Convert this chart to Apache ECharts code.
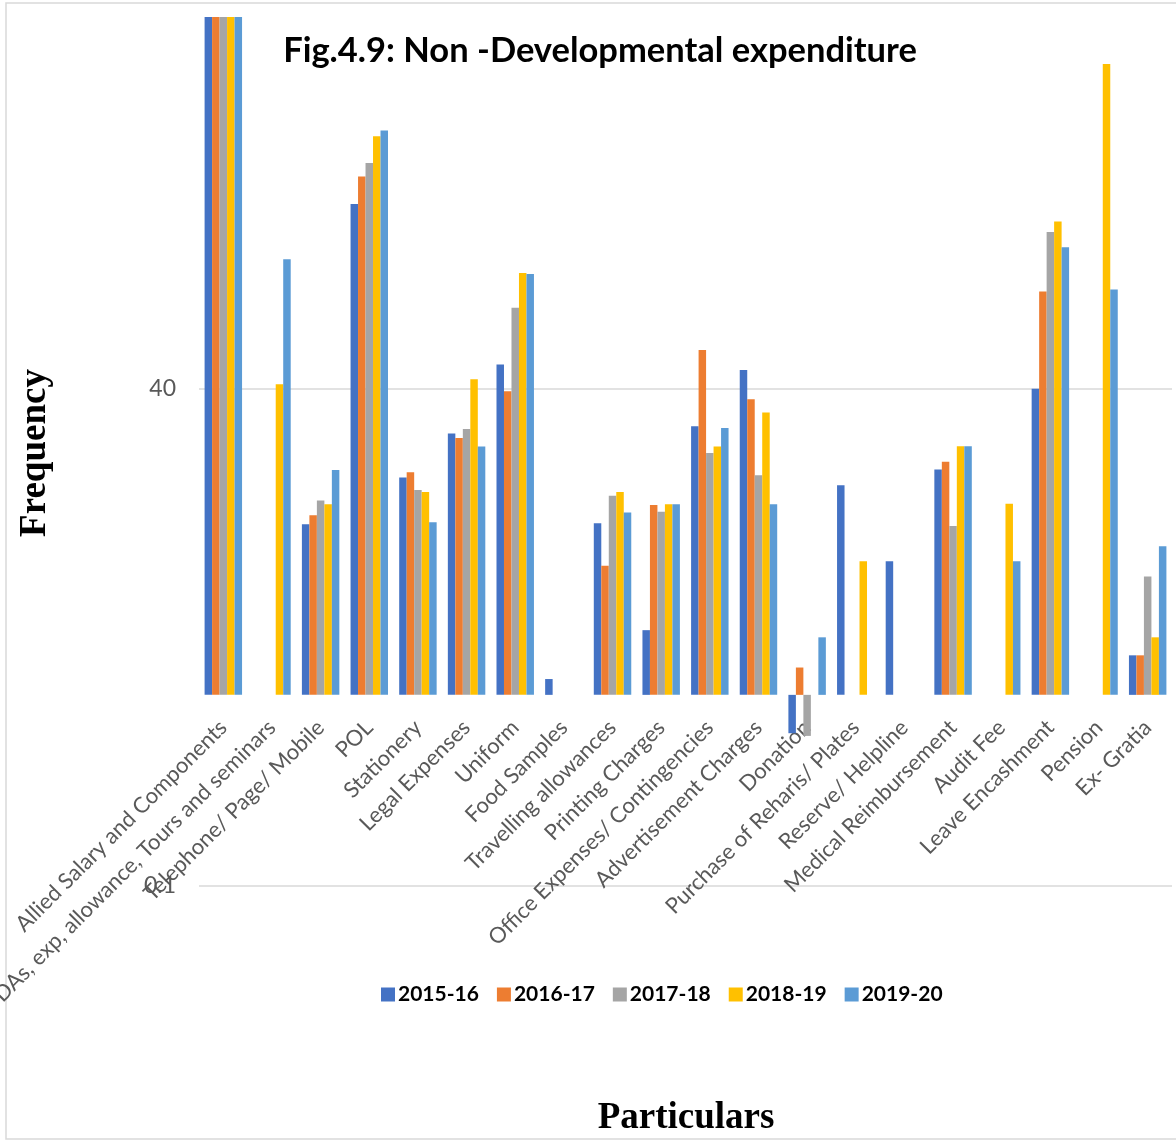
<!DOCTYPE html>
<html>
<head>
<meta charset="utf-8">
<script src="https://cdn.jsdelivr.net/npm/echarts@6/dist/echarts.min.js"></script>
<style>
  html, body { margin: 0; padding: 0; background: #fff; }
  #chart { width: 1176px; height: 1142px; }
</style>
</head>
<body>
<div id="chart"></div>
<script>
// Expense heads (categories)
const particulars = [
  'Allied Salary and Components',
  'TA/DAs, exp, allowance, Tours and seminars',
  'Telephone/ Page/ Mobile',
  'POL',
  'Stationery',
  'Legal Expenses',
  'Uniform',
  'Food Samples',
  'Travelling allowances',
  'Printing Charges',
  'Office Expenses/ Contingencies',
  'Advertisement Charges',
  'Donation',
  'Purchase of Reharis/ Plates',
  'Reserve/ Helpline',
  'Medical Reimbursement',
  'Audit Fee',
  'Leave Encashment',
  'Pension',
  'Ex- Gratia'
];

const years = ['2015-16', '2016-17', '2017-18', '2018-19', '2019-20'];

// Expenditure per head and year (null = no entry)
const y2015 = [5000, null, 7.8, 370, 13.7, 23.3, 53.5, 1.21, 7.9, 2.18, 25.4, 50, 0.63, 12.5, 5, 15.1, null, 40, null, 1.61];
const y2016 = [5000, null, 8.7, 515, 14.6, 22.1, 38.8, null, 4.73, 9.84, 63.8, 35.2, 1.39, null, null, 16.6, null, 129, null, 1.61];
const y2017 = [5000, null, 10.4, 607, 11.8, 24.6, 106, null, 11.0, 9.07, 18.4, 14.1, 0.61, null, null, 7.65, null, 264, null, 4.16];
const y2018 = [5000, 42.2, 9.95, 837, 11.5, 44.8, 161, null, 11.5, 9.95, 19.9, 30, null, 5, null, 20, 10, 300, 2000, 2];
const y2019 = [5000, 190, 15, 896, 8, 19.9, 159, null, 9, 9.95, 24.9, 9.95, 2, null, null, 20, 5, 220, 132, 6];

const yearValues = [y2015, y2016, y2017, y2018, y2019];
const colors = ['#4472C4', '#ED7D31', '#A5A5A5', '#FFC000', '#5B9BD5'];

// Log axis: base 400, gridlines at 0.1 and 40 (one base step apart)
const axisMin = 0.1;
const axisMax = 3519;
const logBase = 400;
// a fine step size keeps tick exponents at full precision
const logStep = 0.99999999;

const chart = echarts.init(document.getElementById('chart'), null, { renderer: 'canvas' });

const option = {
  backgroundColor: '#ffffff',
  animation: false,
  color: colors,
  title: {
    text: 'Fig.4.9: Non -Developmental expenditure',
    left: 595,
    top: 28,
    textAlign: 'center',
    textStyle: {
      fontFamily: 'Lato',
      fontWeight: 'bold',
      fontSize: 34.5,
      color: '#000000'
    }
  },
  legend: {
    data: years,
    left: 376,
    top: 979,
    itemWidth: 14,
    itemHeight: 14,
    itemGap: 18,
    icon: 'rect',
    textStyle: {
      fontFamily: 'Lato',
      fontWeight: 'bold',
      fontSize: 21,
      color: '#000000',
      padding: [0, 0, 0, -2]
    }
  },
  graphic: [
    {
      type: 'rect',
      shape: { x: 6, y: 3, width: 1180, height: 1136 },
      style: { fill: 'none', stroke: '#D9D9D9', lineWidth: 1.5 },
      silent: true
    },
    {
      type: 'text',
      x: 35,
      y: 453,
      rotation: Math.PI / 2,
      style: {
        text: 'Frequency',
        fontFamily: 'Liberation Serif',
        fontWeight: 'bold',
        fontSize: 37,
        fill: '#000000',
        align: 'center',
        verticalAlign: 'middle'
      }
    },
    {
      type: 'text',
      x: 686,
      y: 1118,
      style: {
        text: 'Particulars',
        fontFamily: 'Liberation Serif',
        fontWeight: 'bold',
        fontSize: 37,
        fill: '#000000',
        align: 'center',
        verticalAlign: 'middle'
      }
    }
  ],
  grid: {
    left: 199,
    right: 4,
    top: 17,
    bottom: 256,
    outerBoundsMode: 'none'
  },
  xAxis: {
    type: 'category',
    data: particulars,
    position: 'bottom',
    offset: -192,
    axisLine: { show: false, onZero: false },
    axisTick: { show: false },
    splitLine: { show: false },
    axisLabel: {
      interval: 0,
      rotate: 45,
      margin: 30,
      fontFamily: 'Lato',
      fontSize: 22,
      color: '#595959'
    }
  },
  yAxis: {
    type: 'log',
    logBase: logBase,
    min: axisMin,
    max: axisMax,
    interval: logStep,
    axisLine: { show: false },
    axisTick: { show: false },
    axisLabel: {
      margin: 23,
      fontFamily: 'Lato',
      fontSize: 23,
      color: '#595959',
      showMaxLabel: false,
      formatter: function (v) {
        return String(Math.round(v * 1000) / 1000);
      }
    },
    splitLine: {
      show: true,
      showMaxLine: false,
      lineStyle: { color: '#D9D9D9', width: 1.5 }
    }
  },
  series: years.map(function (name, i) {
    return {
      name: name,
      type: 'bar',
      data: yearValues[i],
      barGap: '0%',
      barCategoryGap: '23%',
      itemStyle: { color: colors[i] }
    };
  })
};

chart.setOption(option);
</script>
</body>
</html>
